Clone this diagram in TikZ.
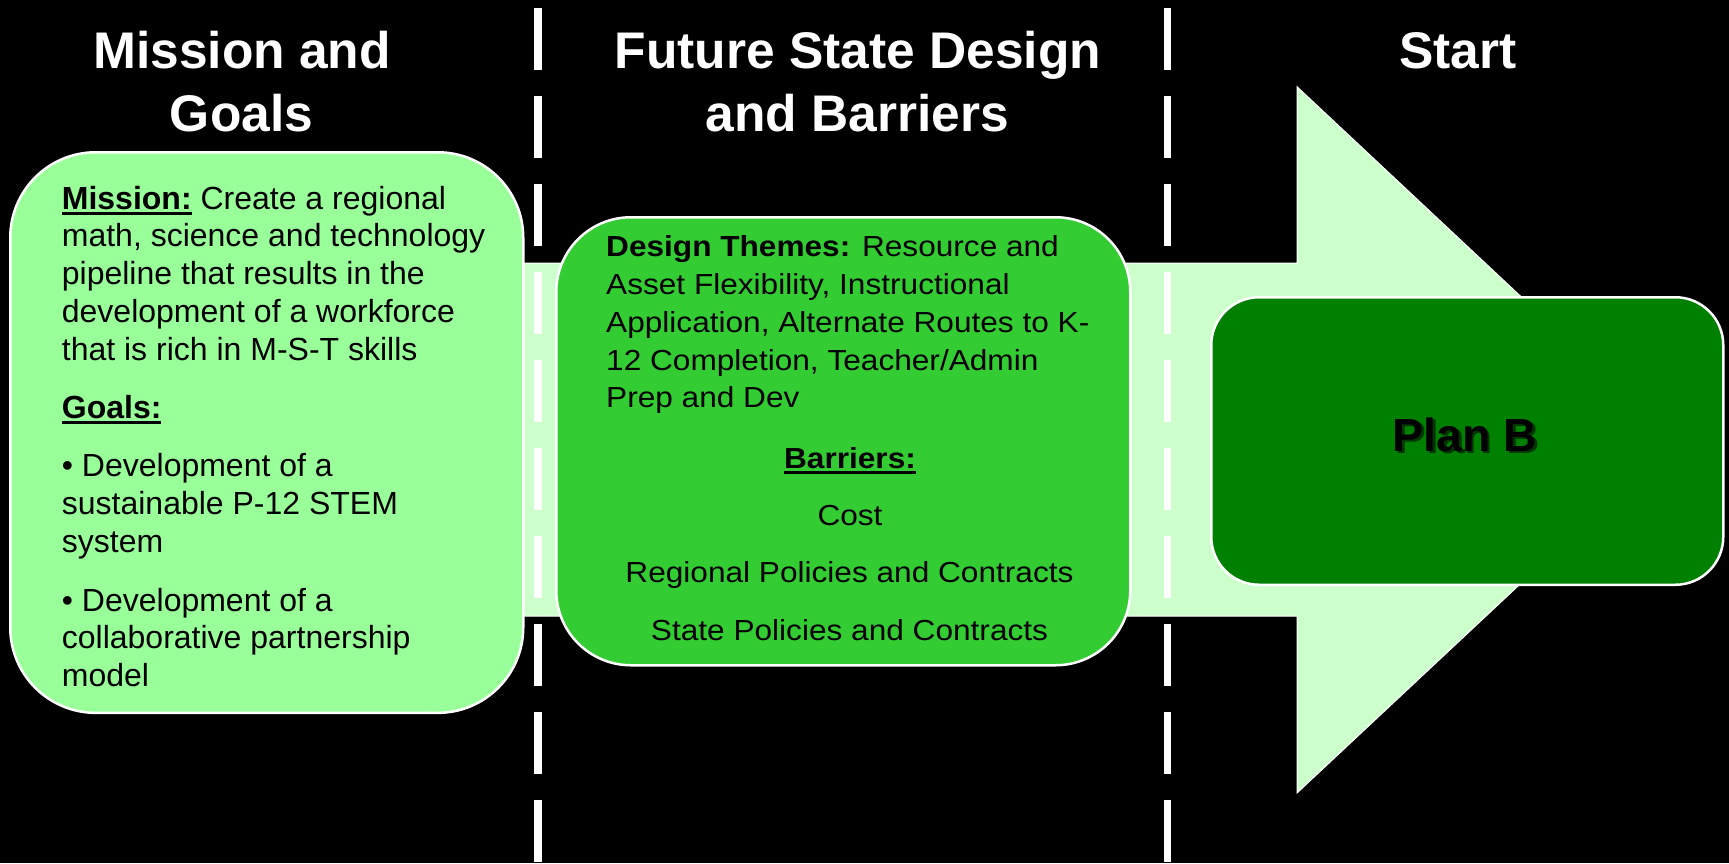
\documentclass[tikz,border=0pt]{standalone}
\usepackage{fontspec}
\setmainfont{Liberation Sans}
\newfontfamily\widesans[FakeStretch=1.09]{Liberation Sans}

\definecolor{bandgreen}{HTML}{CCFFCC}
\definecolor{palegreen}{HTML}{99FF99}
\definecolor{midgreen}{HTML}{33CC33}
\definecolor{darkgreen}{HTML}{008000}
\definecolor{shadowgreen}{HTML}{002A00}

% bold text with a heavy underline
\newcommand{\ulbold}[1]{\setbox0=\hbox{\bfseries #1}\rlap{\rule[-5.6pt]{\wd0}{2.7pt}}\box0\relax}

\tikzset{
  panel/.style={draw=white, line width=2.5pt, inner sep=0pt, anchor=north west},
  heading/.style={text=white, font=\fontsize{51.5}{60}\selectfont\bfseries, anchor=base, inner sep=0pt},
  lefttext/.style={font=\fontsize{32}{38}\selectfont, anchor=base west, inner sep=0pt},
  midtext/.style={font=\widesans\fontsize{29}{38}\selectfont, anchor=base west, inner sep=0pt},
  midcentre/.style={midtext, anchor=base},
  lane/.style={white, line width=7.3pt, dash pattern=on 62pt off 26pt},
  plantext/.style={font=\fontsize{46.5}{54}\selectfont\bfseries, anchor=base, inner sep=0pt},
}

\begin{document}
\begin{tikzpicture}[x=1pt,y=-1pt]
\useasboundingbox (0,0) rectangle (1729,863);
\fill[black] (0,0) rectangle (1729,863);

% wide arrow running behind the three stages
\draw[white, line width=1pt, fill=bandgreen]
  (400,263) -- (1297,263) -- (1297,86.7) -- (1674,440)
  -- (1297,793) -- (1297,616) -- (400,616) -- cycle;

% dashed lane separators
\draw[lane] (538,8) -- (538,863);
\draw[lane] (1167.7,8) -- (1167.7,863);

% column headings
\node[heading] (h1a) at (242,68.3) {Mission and};
\node[heading] (h1b) at (241.5,131.7) {Goals};
\node[heading] (h2a) at (858,68.3) {Future State Design};
\node[heading] (h2b) at (857.5,131.7) {and Barriers};
\node[heading] (h3)  at (1458,68.3) {Start};

% stage boxes
\node[panel, fill=palegreen, rounded corners=85.5pt,
      minimum width=513pt, minimum height=560.6pt] (mission) at (9,151) {};
\node[panel, fill=midgreen, rounded corners=74.7pt,
      minimum width=574pt, minimum height=448pt] (design) at (555,216) {};
\node[panel, fill=darkgreen, rounded corners=47.9pt,
      minimum width=512pt, minimum height=287.5pt] (plan) at (1210,296) {};

% mission and goals text
\node[lefttext] (ml1)  at (61.7,209)   {\ulbold{Mission:} Create a regional};
\node[lefttext] (ml2)  at (61.7,246.8) {math, science and technology};
\node[lefttext] (ml3)  at (61.7,284.6) {pipeline that results in the};
\node[lefttext] (ml4)  at (61.7,322.4) {development of a workforce};
\node[lefttext] (ml5)  at (61.7,360.2) {that is rich in M-S-T skills};
\node[lefttext] (ml6)  at (61.7,418.3) {\ulbold{Goals:}};
\node[lefttext] (ml7)  at (61.7,476.6) {• Development of a};
\node[lefttext] (ml8)  at (61.7,514.6) {sustainable P-12 STEM};
\node[lefttext] (ml9)  at (61.7,552.2) {system};
\node[lefttext] (ml10) at (61.7,611)   {• Development of a};
\node[lefttext] (ml11) at (61.7,648.8) {collaborative partnership};
\node[lefttext] (ml12) at (61.7,686.4) {model};

% design themes and barriers text
\node[midtext] (dl1) at (606,256.7) {\textbf{Design Themes:} Resource and};
\node[midtext] (dl2) at (606,294.5) {Asset Flexibility, Instructional};
\node[midtext] (dl3) at (606,332.3) {Application, Alternate Routes to K-};
\node[midtext] (dl4) at (606,370.1) {12 Completion, Teacher/Admin};
\node[midtext] (dl5) at (606,407.9) {Prep and Dev};
\node[midcentre] (dl6) at (850,468) {\ulbold{Barriers:}};
\node[midcentre] (dl7) at (850,525) {Cost};
\node[midcentre] (dl8) at (849.5,582.5) {Regional Policies and Contracts};
\node[midcentre] (dl9) at (849.5,640.5) {State Policies and Contracts};

% plan label with its soft shadow
\node[plantext, text=shadowgreen, opacity=0.85] (planshadow) at (1467.5,453.5) {Plan B};
\node[plantext, text=black] (planlabel) at (1465,451) {Plan B};
\end{tikzpicture}
\end{document}
